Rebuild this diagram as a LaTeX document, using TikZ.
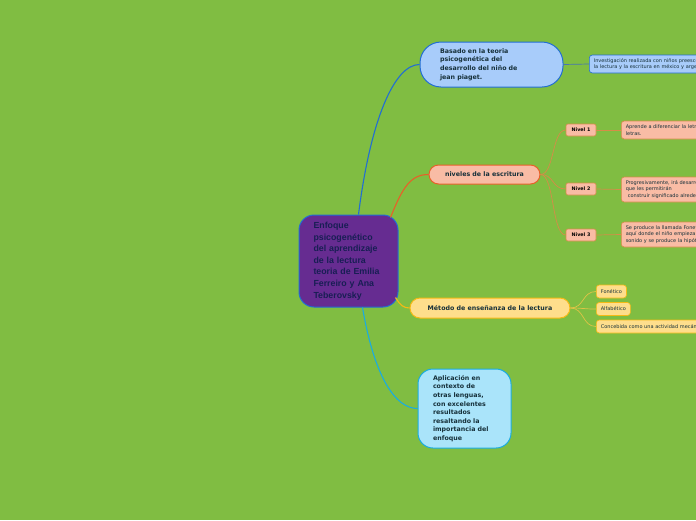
\documentclass[tikz,border=0pt]{standalone}
\usepackage{fontspec}
\newfontfamily\vfont{DejaVu Sans}
\newfontfamily\afont{Liberation Sans}
\definecolor{bggreen}{RGB}{128,189,66}
\definecolor{purp}{RGB}{102,44,145}
\definecolor{navy}{RGB}{24,30,84}
\definecolor{ink}{RGB}{22,48,58}
\definecolor{blu}{RGB}{34,110,210}
\definecolor{blufill}{RGB}{168,204,250}
\definecolor{org}{RGB}{232,96,40}
\definecolor{salm}{RGB}{249,188,165}
\definecolor{orgthin}{RGB}{214,140,72}
\definecolor{yel}{RGB}{246,186,20}
\definecolor{yelfill}{RGB}{254,222,140}
\definecolor{yelthin}{RGB}{222,196,70}
\definecolor{cya}{RGB}{26,172,224}
\definecolor{cyafill}{RGB}{170,228,250}
\begin{document}
\begin{tikzpicture}[
  x=1pt, y=-1pt,
  topic/.style={line width=1pt,text=ink,font=\vfont\bfseries\fontsize{6.3}{8.6}\selectfont,inner ysep=0pt},
  leaf/.style={line width=0.6pt,rounded corners=3pt,text=ink,anchor=west,align=left,
               font=\vfont\fontsize{5}{6.5}\selectfont,inner xsep=4.5pt,inner ysep=0pt},
  longleaf/.style={leaf,minimum width=140pt,text width=131pt},
  tag/.style={line width=0.6pt,rounded corners=2pt,fill=salm,draw=orgthin,text=black,
              minimum width=30pt,minimum height=12pt,inner sep=0pt,
              font=\vfont\bfseries\fontsize{4.8}{6}\selectfont},
  br/.style={line width=1.1pt},
  sub/.style={line width=0.7pt}]

\useasboundingbox (0,0) rectangle (696,520);
\fill[bggreen] (0,0) rectangle (696,520);
\clip (0,0) rectangle (696,520);

% centre
\node[draw=blu,fill=purp,line width=1pt,rounded corners=15pt,minimum width=99pt,minimum height=92pt,
      text width=70pt,align=left,text=navy,font=\afont\bfseries\fontsize{8.8}{11.6}\selectfont] (cent) at (348.5,261)
  {Enfoque\\psicogenético\\del aprendizaje\\de la lectura\\teoria de Emilia\\Ferreiro y Ana\\Teberovsky};

% branches
\node[topic,draw=blu,fill=blufill,rounded corners=21pt,minimum width=143pt,minimum height=45pt,
      text width=103pt,align=left] (piag) at (491.5,64.5)
  {Basado en la teoria\\psicogenética del\\desarrollo del niño de\\jean piaget.};
\node[topic,draw=org,fill=salm,rounded corners=9.5pt,minimum width=111pt,minimum height=19pt] (niv) at (484.5,174.5)
  {niveles de la escritura};
\node[topic,draw=yel,fill=yelfill,rounded corners=10pt,minimum width=160pt,minimum height=20pt] (met) at (490,308)
  {Método de enseñanza de la lectura};
\node[topic,draw=cya,fill=cyafill,rounded corners=15pt,minimum width=93pt,minimum height=79pt,
      text width=63pt,align=left] (apl) at (464.5,408.5)
  {Aplicación en\\contexto de\\otras lenguas,\\con excelentes\\resultados\\resaltando la\\importancia del\\enfoque};

\draw[br,blu] ([xshift=10pt]cent.north) .. controls +(12,-95) and +(-25,0) .. (piag.west);
\draw[br,org] ([xshift=-8pt,yshift=-3pt]cent.north east) .. controls +(12,-30) and +(-18,0) .. (niv.west);
\draw[br,yel] ([xshift=-3pt,yshift=10pt]cent.south east) .. controls +(5,8) and +(-6,0) .. (met.west);
\draw[br,cya] ([xshift=14pt]cent.south) .. controls +(12,70) and +(-22,0) .. (apl.west);

% leaves of piaget
\node[longleaf,draw=blu,fill=blufill,minimum height=18pt] (inv) at (589,64)
  {Investigación realizada con niños preescolares\\la lectura y la escritura en méxico y argentina};
\draw[sub,blu!60!gray] (piag.east) -- (inv.west);

% niveles
\node[tag] (n1) at (581,130) {Nivel 1};
\node[tag] (n2) at (581,189) {Nivel 2};
\node[tag] (n3) at (581,235) {Nivel 3};
\node[longleaf,draw=orgthin,fill=salm,minimum height=18pt] (l1) at (621,130)
  {Aprende a diferenciar la letra\\letras.};
\node[longleaf,draw=orgthin,fill=salm,minimum height=25pt] (l2) at (621,189.5)
  {Progresivamente, irá desarrollando\\que les permitirán\\\hspace*{2pt}construir significado alrededor};
\node[longleaf,draw=orgthin,fill=salm,minimum height=25pt] (l3) at (621,234.5)
  {Se produce la llamada Fonetización\\aquí donde el niño empieza\\sonido y se produce la hipótesis};
\foreach \n in {n1,n2,n3}
  \draw[sub,orgthin] (niv.east) .. controls +(14,0) and +(-14,0) .. (\n.west);
\draw[sub,orgthin] (n1.east) -- (l1.west);
\draw[sub,orgthin] (n2.east) -- (l2.west);
\draw[sub,orgthin] (n3.east) -- (l3.west);

% metodo
\node[leaf,draw=yel,fill=yelfill,minimum height=13pt] (fon) at (596,291.5) {Fonético};
\node[leaf,draw=yel,fill=yelfill,minimum height=13pt] (alf) at (596,309) {Alfabético};
\node[longleaf,draw=yel,fill=yelfill,minimum height=13pt] (con) at (596,326.5)
  {Concebida como una actividad mecánica};
\foreach \n in {fon,alf,con}
  \draw[sub,yelthin] (met.east) .. controls +(14,0) and +(-14,0) .. (\n.west);
\end{tikzpicture}
\end{document}
